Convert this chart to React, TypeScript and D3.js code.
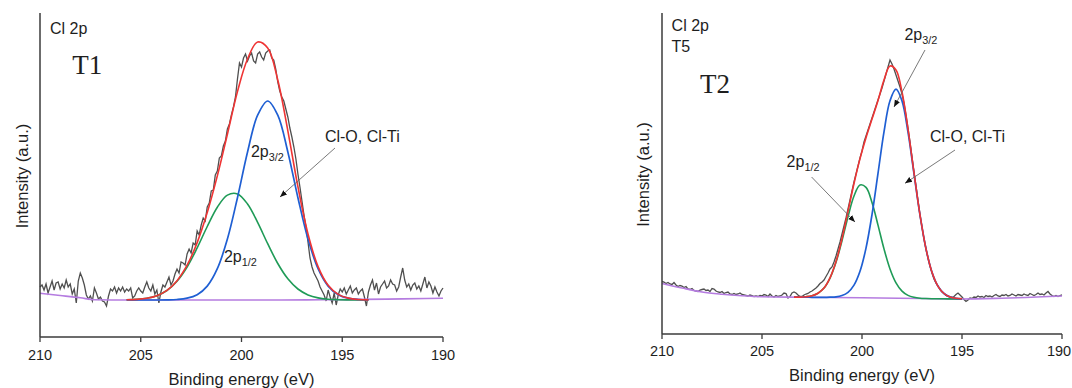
import * as d3 from "d3";

// ---- data -------------------------------------------------------------
// raw scans run from 210 eV down to 190 eV in 0.1 eV steps
const scanStart = 210;
const scanStep = 0.1;
const energyTicks = [210, 205, 200, 195, 190];

// T1 : Cl 2p raw counts (a.u.)
const t1Counts = [
  50, 52, 47, 53, 44, 50, 56, 47, 54, 55,
  48, 53, 49, 57, 50, 53, 43, 48, 34, 56,
  64, 59, 52, 42, 38, 41, 36, 49, 44, 38,
  40, 36, 35, 31, 41, 48, 46, 50, 44, 49,
  46, 50, 45, 48, 46, 49, 39, 41, 46, 49,
  46,
  44, 50, 55, 49, 46, 52, 43, 47, 34, 45, 52, 50,
  55, 60, 52, 56, 63, 68, 64, 75, 74, 72,
  83, 88, 84, 94, 92, 106, 102, 112, 119, 116,
  130, 134, 146, 147, 162, 166, 179, 181, 191, 196,
  208, 213, 222, 230, 240, 258, 274, 270,
  279, 283, 276, 281, 284, 276, 274, 283, 285, 280,
  277, 284, 286, 287, 279, 277, 268, 255, 246, 240,
  236, 228, 220, 209, 200, 190, 178, 163, 150, 136,
  122, 110, 95, 79, 70, 64, 60, 56, 50, 46,
  42, 36, 47, 40, 34, 44, 32, 42, 48, 45,
  49, 43, 47, 51, 44, 47, 49, 43, 46, 48,
  40, 31, 45, 52, 57, 47, 54, 43, 50, 53,
  56, 49, 51, 57, 53, 52, 46, 50, 60, 69,
  57, 50, 53, 47, 52, 54, 48, 51, 46, 53,
  60, 49, 55, 51, 44, 50, 45, 41, 46, 49,
];
const t1BgEnergy = [210, 209, 208, 207.3, 206, 204, 202, 200, 198, 196, 194, 192, 190];
const t1BgCounts = [43.7, 41.5, 39.2, 37.2, 37, 37, 37, 37, 37, 37.2, 37.6, 38.1, 38.7];
const t1FitEnergy = [
  205.7, 205.2, 204.7, 204.2, 203.7, 203.2, 202.7, 202.2, 201.7, 201.2, 200.7, 200.2, 199.7,
  199.2, 198.7, 198.2, 197.7, 197.2, 196.7, 196.2, 195.7, 195.2, 194.7, 194.2, 193.7,
];
const t1P32 = [
  37, 37, 37, 37, 37.1, 37.5, 38.8, 42.3, 50.9, 68.3, 97.9, 139.3, 185,
  221.8, 236, 221.8, 185, 139.3, 97.9, 68.3, 50.9, 42.3, 38.8, 37.5, 37.1,
];
const t1P12 = [
  37.2, 37.6, 38.7, 41.3, 46.5, 55.8, 70, 89.1, 110.5, 129.8, 141.9, 143.1, 133,
  114.6, 93.3, 73.5, 58.2, 48, 42.1, 39.1, 37.8, 37.3, 37.1, 37, 37,
];
const t1Envelope = [
  37.2, 37.6, 38.7, 41.3, 46.6, 56.3, 71.8, 94.4, 124.4, 161.1, 202.8, 245.4, 278,
  295, 289, 257, 206.2, 150.3, 103, 70.4, 51.7, 42.6, 38.9, 37.5, 37.1,
];

// T2 (T5 sample) : Cl 2p raw counts (a.u.)
const t2Counts = [
  52.5, 52, 50.5, 51.5, 50, 49.5, 51.5, 49, 47.5, 48.5,
  48, 46.5, 47.5, 45, 44.5, 45.5, 43.5, 43, 42.5, 44,
  44.5, 45, 43.5, 44, 42.5, 45.5, 45, 43, 42, 41.5,
  42.5, 40.5, 41.5, 42, 40, 39.5, 40.5, 39.5, 40, 41,
  39.5, 39, 38.5, 38, 39, 38.5, 37.5, 38, 37.5, 38.5,
  38,
  39.5, 39, 37.5, 40, 38, 37, 38.5, 37.5, 38, 39,
  41, 40.5, 36, 37.5, 41, 42, 41, 39, 37.5, 37.5,
  39, 40, 40.5, 42, 43,
  44.5, 46, 48, 50.5, 52, 54, 57.5, 61, 65, 67,
  72, 78, 85, 92, 100, 108, 116, 125, 134, 143,
  152, 160, 168, 176, 183, 192, 198, 204, 210, 216,
  222, 228, 234, 240, 246, 253, 260, 267, 274, 270,
  265, 259, 253, 247, 240, 231, 219, 206, 192, 177,
  162, 148, 133, 119, 107, 95, 85, 76, 68, 61,
  55, 51, 48, 44.5, 42, 40.5, 38.5, 37.5, 37, 36.5,
  37.5, 39.5, 41, 39, 37, 34.5, 32.5, 34, 36, 35.5,
  37, 36.5, 38, 37, 37.5, 36.5, 38.5, 37.5, 38, 37,
  38.5, 39.5, 38, 37.5, 39, 38.5, 39.5, 38, 38.5, 40,
  39, 38, 39.5, 39, 38.5, 40, 39, 38.5, 40.5, 39.5,
  38.5, 39.5, 41, 39.5, 40, 39, 41, 42.5, 40, 38.5,
  37.5, 38.5, 37.5, 38.5, 39,
];
const t2BgEnergy = [210, 209, 208, 207, 206, 205, 203, 200, 197, 195, 193, 190];
const t2BgCounts = [50.5, 46, 42, 39.8, 38.3, 37.3, 36.8, 36.3, 35.5, 35, 35.8, 38];
const t2FitEnergy = [
  203.4, 203.1, 202.8, 202.5, 202.2, 201.9, 201.6, 201.3, 201.0, 200.7, 200.4, 200.1, 199.8, 199.5,
  199.2, 198.9, 198.6, 198.3, 198.0, 197.7, 197.4, 197.1, 196.8, 196.5, 196.2, 195.9, 195.6, 195.3, 195.0,
];
const t2P32 = [
  36.9, 36.8, 36.8, 36.7, 36.7, 36.6, 36.8, 37.2, 38.5, 41.7, 48.9, 62.7, 85.9, 119.4,
  160.6, 202.1, 233.2, 244.8, 233.1, 201.8, 160.2, 118.8, 85.1, 61.7, 47.7, 40.5, 37.1, 35.7, 35.2,
];
const t2P12 = [
  36.9, 36.9, 37.3, 38.2, 40.7, 45.9, 55.9, 71.7, 93.3, 117.3, 138, 149, 146.6, 131.6,
  108.9, 85.1, 65.1, 51.2, 42.9, 38.6, 36.7, 35.8, 35.5, 35.3, 35.2, 35.2, 35.1, 35, 35,
];
const t2Envelope = [
  36.9, 36.9, 37.3, 38.2, 40.7, 45.9, 56.1, 72.4, 95.3, 122.6, 150.5, 175.4, 196.3, 214.9,
  233.5, 254, 268, 264, 242, 205, 161.3, 119.1, 85.2, 61.7, 47.7, 40.5, 37.1, 35.7, 35.2,
];

// ---- styling -----------------------------------------------------------
const SANS = "'Liberation Sans', Arial, Helvetica, sans-serif";
const SERIF = "'Liberation Serif', 'Times New Roman', serif";
const C = {
  raw: "#4f4f4f",
  bg: "#b57ce0",
  p12: "#1f9b57",
  p32: "#1f5fd3",
  env: "#ef3434",
  axis: "#3b3b3b",
  text: "#1e1e1e",
  pointer: "#6a6a6a",
};

type Note = { text: string; sub?: string; e: number; i: number; size: number; serif?: boolean };
type Pointer = { e1: number; i1: number; e2: number; i2: number };

type PanelProps = {
  left: number;
  right: number;
  top: number;
  bottom: number;
  yMax: number;
  counts: number[];
  bgE: number[];
  bgI: number[];
  fitE: number[];
  p12: number[];
  p32: number[];
  env: number[];
  notes: Note[];
  pointers: Pointer[];
  yLabelX: number;
  tickY: number;
  titleY: number;
};

function Panel(p: PanelProps) {
  const x = d3.scaleLinear().domain([210, 190]).range([p.left, p.right]);
  const y = d3.scaleLinear().domain([0, p.yMax]).range([p.bottom, p.top]);

  const rawLine = d3
    .line<number>()
    .x((_, i) => x(scanStart - i * scanStep))
    .y((d) => y(d));

  const pairLine = (curve: d3.CurveFactory) =>
    d3
      .line<[number, number]>()
      .x((d) => x(d[0]))
      .y((d) => y(d[1]))
      .curve(curve);

  const smooth = pairLine(d3.curveCatmullRom.alpha(0.5));
  const mono = pairLine(d3.curveMonotoneX);
  const zip = (a: number[], b: number[]) => a.map((v, i) => [v, b[i]] as [number, number]);

  const midX = (p.left + p.right) / 2;

  return (
    <g>
      {/* spectra */}
      <path d={rawLine(p.counts) ?? ""} fill="none" stroke={C.raw} strokeWidth={1.3} />
      <path d={mono(zip(p.bgE, p.bgI)) ?? ""} fill="none" stroke={C.bg} strokeWidth={1.6} />
      <path d={smooth(zip(p.fitE, p.p12)) ?? ""} fill="none" stroke={C.p12} strokeWidth={1.6} />
      <path d={smooth(zip(p.fitE, p.p32)) ?? ""} fill="none" stroke={C.p32} strokeWidth={1.7} />
      <path d={smooth(zip(p.fitE, p.env)) ?? ""} fill="none" stroke={C.env} strokeWidth={1.6} />

      {/* axes */}
      <line x1={p.left} x2={p.left} y1={p.top} y2={p.bottom} stroke={C.axis} strokeWidth={1.5} />
      <line x1={p.left} x2={p.right} y1={p.bottom} y2={p.bottom} stroke={C.axis} strokeWidth={1.5} />
      {energyTicks.map((t) => (
        <g key={t}>
          <line x1={x(t)} x2={x(t)} y1={p.bottom} y2={p.bottom + 5} stroke={C.axis} strokeWidth={1.3} />
          <text
            x={Math.min(x(t), 1059)}
            y={p.tickY}
            textAnchor="middle"
            fontSize={14.5}
            fontFamily={SANS}
            fill={C.text}
          >
            {t}
          </text>
        </g>
      ))}
      <text x={midX} y={p.titleY} textAnchor="middle" fontSize={16.5} fontFamily={SANS} fill={C.text}>
        Binding energy (eV)
      </text>
      <text
        transform={`translate(${p.yLabelX},${(p.top + p.bottom) / 2 + 1}) rotate(-90)`}
        textAnchor="middle"
        dominantBaseline="central"
        fontSize={16.5}
        fontFamily={SANS}
        fill={C.text}
      >
        Intensity (a.u.)
      </text>

      {/* annotations */}
      {p.pointers.map((a, i) => (
        <line
          key={i}
          x1={x(a.e1)}
          y1={y(a.i1)}
          x2={x(a.e2)}
          y2={y(a.i2)}
          stroke={C.pointer}
          strokeWidth={0.9}
          markerEnd="url(#arrowhead)"
        />
      ))}
      {p.notes.map((n, i) => (
        <text
          key={i}
          x={x(n.e)}
          y={y(n.i)}
          fontSize={n.size}
          fontFamily={n.serif ? SERIF : SANS}
          fill={C.text}
        >
          {n.text}
          {n.sub && (
            <tspan fontSize={n.size * 0.68} dy={4}>
              {n.sub}
            </tspan>
          )}
        </text>
      ))}
    </g>
  );
}

const t1Notes: Note[] = [
  { text: "Cl 2p", e: 209.5, i: 303, size: 16 },
  { text: "T1", e: 208.4, i: 263, size: 27, serif: true },
  { text: "Cl-O, Cl-Ti", e: 195.86, i: 195, size: 16 },
  { text: "2p", sub: "3/2", e: 199.53, i: 180, size: 16 },
  { text: "2p", sub: "1/2", e: 200.87, i: 75, size: 16 },
];
const t1Pointers: Pointer[] = [{ e1: 195.36, i1: 189, e2: 198.09, i2: 140 }];

const t2Notes: Note[] = [
  { text: "Cl 2p", e: 209.52, i: 303, size: 16 },
  { text: "T5", e: 209.52, i: 282, size: 16 },
  { text: "T2", e: 208.1, i: 241, size: 27, serif: true },
  { text: "2p", sub: "3/2", e: 197.88, i: 294, size: 16 },
  { text: "Cl-O, Cl-Ti", e: 196.6, i: 192, size: 16 },
  { text: "2p", sub: "1/2", e: 203.77, i: 167, size: 16 },
];
const t2Pointers: Pointer[] = [
  { e1: 196.85, i1: 284, e2: 198.4, i2: 227 },
  { e1: 195.35, i1: 184, e2: 197.85, i2: 150.7 },
  { e1: 202.52, i1: 157, e2: 200.35, i2: 112 },
];

export default function App() {
  return (
    <svg
      width={1072}
      height={388}
      viewBox="0 0 1072 388"
      style={{ position: "absolute", left: 0, top: 0, background: "#fff" }}
    >
      <defs>
        <marker
          id="arrowhead"
          viewBox="0 0 10 10"
          refX={10}
          refY={5}
          markerWidth={7}
          markerHeight={7}
          markerUnits="userSpaceOnUse"
          orient="auto"
        >
          <path d="M0,1 L10,5 L0,9 z" fill="#111" />
        </marker>
      </defs>
      <rect width={1072} height={388} fill="#fff" />
      <Panel
        left={40}
        right={443}
        top={13}
        bottom={337}
        yMax={324}
        counts={t1Counts}
        bgE={t1BgEnergy}
        bgI={t1BgCounts}
        fitE={t1FitEnergy}
        p12={t1P12}
        p32={t1P32}
        env={t1Envelope}
        notes={t1Notes}
        pointers={t1Pointers}
        yLabelX={22}
        tickY={360}
        titleY={385}
      />
      <Panel
        left={662}
        right={1062}
        top={13}
        bottom={334}
        yMax={321}
        counts={t2Counts}
        bgE={t2BgEnergy}
        bgI={t2BgCounts}
        fitE={t2FitEnergy}
        p12={t2P12}
        p32={t2P32}
        env={t2Envelope}
        notes={t2Notes}
        pointers={t2Pointers}
        yLabelX={643}
        tickY={356}
        titleY={381}
      />
    </svg>
  );
}
